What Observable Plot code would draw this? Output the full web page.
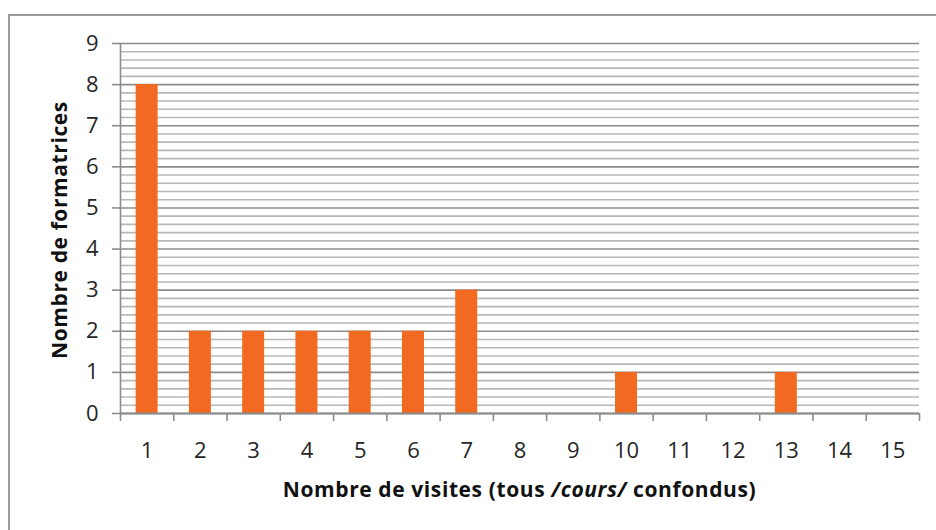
<!DOCTYPE html>
<html>
<head>
<meta charset="utf-8">
<script src="https://cdn.jsdelivr.net/npm/d3@7"></script>
<script src="https://cdn.jsdelivr.net/npm/@observablehq/plot@0.6"></script>
<style>
  html, body { margin: 0; padding: 0; background: #fff; }
  #chart { position: relative; width: 936px; height: 530px; overflow: hidden; }
  #chart svg { font-family: "Open Sans", Lato, sans-serif; }
  #chart svg text { font-size: 22px; fill: #262626; }
  #chart svg text.title { font-size: 21px; font-weight: bold; fill: #111; letter-spacing: 0.6px; }
</style>
</head>
<body>
<div id="chart"></div>
<script>
const visits = [1, 2, 3, 4, 5, 6, 7, 8, 9, 10, 11, 12, 13, 14, 15];
const counts = [8, 2, 2, 2, 2, 2, 3, 0, 0, 1, 0, 0, 1, 0, 0];
const yTicks = [0, 1, 2, 3, 4, 5, 6, 7, 8, 9];
const yMinor = d3.range(0, 45).map(i => i / 5).filter(v => !Number.isInteger(v));
const xBoundaries = d3.range(0, 16).map(i => i + 0.5);
const yTitle = "Nombre de formatrices";

const data = visits.map((v, i) => ({v, n: counts[i]})).filter(d => d.n > 0);

const W = 936, H = 530;
const mL = 120, mR = 17, mT = 43, mB = 117;
const step = (W - mL - mR) / visits.length;
const barW = 22;
const inset = (step - barW) / 2;

const plot = Plot.plot({
  width: W,
  height: H,
  marginLeft: mL,
  marginRight: mR,
  marginTop: mT,
  marginBottom: mB,
  style: {background: "transparent"},
  x: {type: "linear", domain: [0.5, 15.5]},
  y: {domain: [0, 9]},
  marks: [
    Plot.ruleY(yMinor, {stroke: "#b8b8b8", strokeWidth: 1.6}),
    Plot.ruleY(yTicks, {stroke: "#8c8c8c", strokeWidth: 1.6}),
    Plot.rectY(data, {x1: d => d.v - 0.5, x2: d => d.v + 0.5, y: "n", insetLeft: inset, insetRight: inset, fill: "#F26A22"}),
    Plot.ruleX([0.5], {stroke: "#8c8c8c", strokeWidth: 1.6}),
    Plot.ruleY([0], {stroke: "#8c8c8c", strokeWidth: 2.2}),
    Plot.axisY({ticks: yTicks, tickSize: 8, tickPadding: 14, tickFormat: d => d, label: null, stroke: "#8c8c8c", strokeWidth: 1.6}),
    Plot.axisX({ticks: xBoundaries, tickSize: 8, tickFormat: () => "", label: null, stroke: "#8c8c8c", strokeWidth: 1.6}),
    Plot.axisX({ticks: visits, tickSize: 0, tickPadding: 29, tickFormat: d => d, label: null})
  ]
});

document.getElementById("chart").appendChild(plot);

const svg = d3.select(plot);
// chart-area border (left and top edges visible)
svg.insert("path", ":first-child")
  .attr("d", `M9,${H} V15 H${W}`)
  .attr("fill", "none").attr("stroke", "#9a9a9a").attr("stroke-width", 2);

// y title
svg.append("text").attr("class", "title")
  .attr("transform", `translate(67,${mT + (H - mT - mB) / 2 + 2}) rotate(-90)`)
  .attr("text-anchor", "middle")
  .text(yTitle);

// x title with italic part
const xt = svg.append("text").attr("class", "title")
  .attr("x", mL + (W - mL - mR) / 2).attr("y", 497)
  .attr("text-anchor", "middle");
xt.append("tspan").text("Nombre de visites (tous ");
xt.append("tspan").attr("font-style", "italic").text("/cours/");
xt.append("tspan").text(" confondus)");
</script>
</body>
</html>
